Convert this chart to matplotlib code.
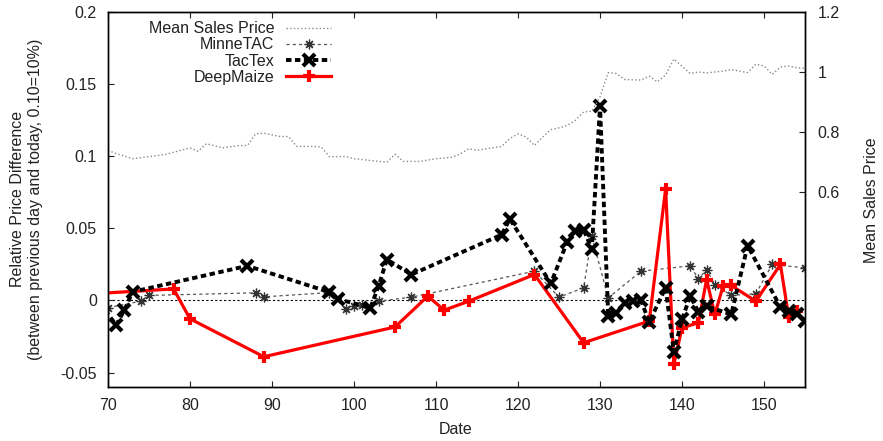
import matplotlib
matplotlib.use("Agg")
import matplotlib.pyplot as plt
from matplotlib.ticker import FuncFormatter

plt.rcParams['font.family'] = ['Liberation Sans', 'DejaVu Sans']
plt.rcParams['axes.unicode_minus'] = False

# mean sales price (right axis)
price_days = [70, 71, 73, 75, 77, 80, 81, 82, 84, 86, 87, 88, 89, 91, 92, 93, 95, 96, 97,
              99, 100, 102, 104, 105, 106, 108, 110, 112, 113, 114, 115, 117, 118, 119, 120,
              121, 122, 123, 124, 125, 126, 127, 128, 129, 130, 131, 132, 133, 135, 136, 137,
              138, 139, 141, 142, 143, 145, 146, 148, 149, 150, 151, 152, 153, 154, 155]
price_vals = [0.739, 0.728, 0.711, 0.718, 0.725, 0.747, 0.736, 0.761, 0.747, 0.755, 0.755,
              0.794, 0.796, 0.785, 0.785, 0.752, 0.752, 0.750, 0.718, 0.718, 0.711, 0.705,
              0.699, 0.726, 0.702, 0.702, 0.711, 0.716, 0.728, 0.744, 0.739, 0.748, 0.752,
              0.778, 0.794, 0.783, 0.755, 0.783, 0.808, 0.814, 0.822, 0.839, 0.867, 0.869,
              0.917, 0.998, 0.995, 0.975, 0.973, 0.986, 0.967, 0.990, 1.043, 0.995, 1.000,
              0.997, 1.003, 1.008, 0.998, 1.026, 1.020, 0.992, 1.017, 1.020, 1.014, 1.012]

minne_days = [70, 74, 75, 88, 89, 97, 99, 100, 101, 103, 107, 122, 125, 128, 129, 131, 135,
              141, 142, 143, 144, 146, 149, 151, 155]
minne_vals = [-0.005, -0.0005, 0.0035, 0.0053, 0.0025, 0.0055, -0.0062, -0.0035, -0.0028,
              -0.0005, 0.0023, 0.0203, 0.0023, 0.0088, 0.0445, 0.0018, 0.0203, 0.024, 0.015,
              0.0214, 0.011, 0.0035, 0.0047, 0.025, 0.0226]

tactex_days = [69, 71, 72, 73, 87, 97, 98, 102, 103, 104, 107, 118, 119, 124, 126, 127, 128,
               129, 130, 131, 132, 133, 134, 135, 136, 138, 139, 140, 141, 142, 143, 146, 148,
               152, 153, 154, 155]
tactex_vals = [-0.002, -0.017, -0.0067, 0.006, 0.024, 0.0058, 0.001, -0.005, 0.0099, 0.0284,
               0.018, 0.0456, 0.0565, 0.0118, 0.0406, 0.0484, 0.049, 0.0357, 0.135, -0.0108,
               -0.009, -0.0016, -0.0005, 0.0, -0.015, 0.0088, -0.0357, -0.013, 0.003, -0.0078,
               -0.004, -0.0097, 0.038, -0.0046, -0.007, -0.0097, -0.014]

deep_days = [68, 78, 80, 89, 105, 109, 111, 114, 122, 128, 136, 138, 139, 140, 142, 143, 144,
             145, 146, 149, 152, 153, 154]
deep_vals = [0.0046, 0.008, -0.0127, -0.039, -0.0184, 0.003, -0.0067, -0.0005, 0.018, -0.0293,
             -0.0143, 0.0772, -0.0443, -0.019, -0.0154, 0.0145, -0.0097, 0.0099, 0.0104,
             -0.0005, 0.025, -0.0113, -0.0072]

x_ticks = [70, 80, 90, 100, 110, 120, 130, 140, 150]
y_ticks = [-0.05, 0, 0.05, 0.1, 0.15, 0.2]
y2_ticks = [0.6, 0.8, 1.0, 1.2]

fig = plt.figure(figsize=(8.83, 4.41), dpi=100)
ax = fig.add_axes([0.1223, 0.1224, 0.7894, 0.8504])
ax2 = ax.twinx()

ax.axhline(0, color='black', lw=0.8, ls=(0, (2, 2)), zorder=1)

l_price, = ax2.plot(price_days, price_vals, color='#888888', lw=1.0, ls=':')
l_minne, = ax.plot(minne_days, minne_vals, color='#555555', lw=0.9, ls=(0, (2.5, 2.5)),
                   marker=(8, 2, 0), ms=7, mew=0.9, mec='#333333', zorder=2)
l_deep, = ax.plot(deep_days, deep_vals, color='#ff0000', lw=2.3, marker='+', ms=9, mew=3,
                  zorder=3)
l_tac, = ax.plot(tactex_days, tactex_vals, color='black', lw=2.8, ls=(0, (1.4, 0.9)),
                 marker='x', ms=9, mew=3, zorder=4)

ax.set_xlim(70, 155)
ax.set_ylim(-0.06, 0.2)
ax2.set_ylim(-0.05, 1.2)

fmt = FuncFormatter(lambda v, p: '%g' % round(v, 4))
ax.set_xticks(x_ticks)
ax.set_yticks(y_ticks)
ax.yaxis.set_major_formatter(fmt)
ax2.set_yticks(y2_ticks)
ax2.yaxis.set_major_formatter(fmt)

ax.tick_params(direction='in', length=4, width=0.8, labelsize=11.5, pad=8,
               colors='#222222', top=True)
ax2.tick_params(direction='in', length=4, width=0.8, labelsize=11.5, pad=9,
                colors='#222222')
for a in (ax, ax2):
    for s in a.spines.values():
        s.set_color('black')
        s.set_linewidth(1.0)

fig.text(456 / 883, 1 - 430 / 441, 'Date', ha='center', va='center', fontsize=11.5,
         color='#222222')
fig.text(27 / 883, 1 - 199 / 441,
         'Relative Price Difference\n(between previous day and today, 0.10=10%)',
         rotation=90, ha='center', va='center', ma='center', fontsize=11.5,
         color='#222222', linespacing=1.25)
fig.text(872 / 883, 1 - 200 / 441, 'Mean Sales Price', rotation=90, ha='center',
         va='center', fontsize=11.5, color='#222222')

leg = ax2.legend([l_price, l_minne, l_tac, l_deep],
                 ['Mean Sales Price', 'MinneTAC', 'TacTex', 'DeepMaize'],
                 loc='upper right', bbox_to_anchor=(0.327, 0.988), frameon=False,
                 markerfirst=False, fontsize=11.5, labelspacing=0.07, borderpad=0.3,
                 borderaxespad=0.0, handlelength=2.8, handletextpad=0.75)
for t in leg.get_texts():
    t.set_color('#222222')

fig.savefig('out.png', dpi=100)
